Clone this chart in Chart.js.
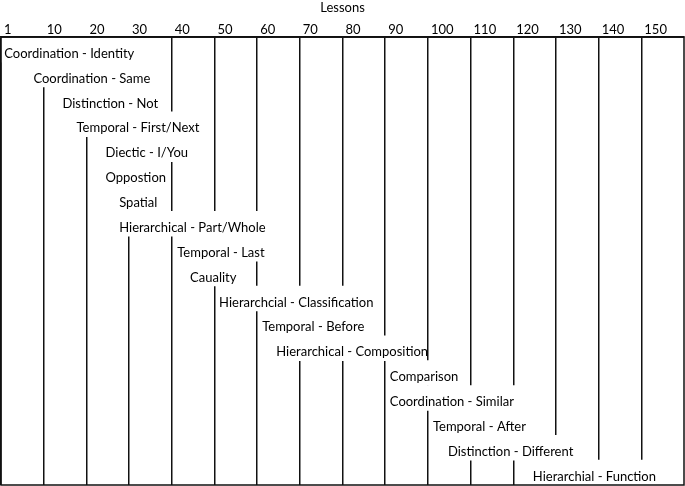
<!DOCTYPE html>
<html>
<head>
<meta charset="utf-8">
<script src="https://cdn.jsdelivr.net/npm/chart.js@4/dist/chart.umd.min.js"></script>
<style>
  body { margin: 0; background: #fff; }
  canvas { display: block; }
</style>
</head>
<body>
<canvas id="chart" width="685" height="486"></canvas>
<script>
// relations, one per row, top to bottom
const categories = [
  'Coordination - Identity',
  'Coordination - Same',
  'Distinction - Not',
  'Temporal - First/Next',
  'Diectic - I/You',
  'Oppostion',
  'Spatial',
  'Hierarchical - Part/Whole',
  'Temporal - Last',
  'Cauality',
  'Hierarchcial - Classification',
  'Temporal - Before',
  'Hierarchical - Composition',
  'Comparison',
  'Coordination - Similar',
  'Temporal - After',
  'Distinction - Different',
  'Hierarchial - Function'
];
// lesson where each label block starts / ends
const labelStart = [0, 7.0, 13.8, 17.1, 23.9, 23.9, 27.1, 27.1, 40.7, 43.7, 50.5, 60.6, 63.9, 90.5, 90.5, 100.6, 104.1, 124.0];
const labelEnd = [31.3, 35.3, 36.7, 47.5, 43.5, 38.4, 37.0, 62.5, 62.5, 55.2, 88.0, 86.1, 99.7, 107.1, 120.9, 123.7, 133.6, 153.7];
// lesson ticks along the top
const tickValues = [0, 10, 20, 30, 40, 50, 60, 70, 80, 90, 100, 110, 120, 130, 140, 150];
const tickLabels = ['1', '10', '20', '30', '40', '50', '60', '70', '80', '90', '100', '110', '120', '130', '140', '150'];

const FONT = 'Lato, "Open Sans", sans-serif';

const rowText = {
  id: 'rowText',
  afterDatasetsDraw(chart) {
    const ctx = chart.ctx;
    const meta = chart.getDatasetMeta(0);
    ctx.save();
    ctx.font = '13px ' + FONT;
    ctx.fillStyle = '#000';
    ctx.textAlign = 'left';
    ctx.textBaseline = 'middle';
    meta.data.forEach(function(bar, i) {
      const x0 = Math.min(bar.base, bar.x);
      ctx.fillText(categories[i], x0 + 2.5, bar.y + 4);
    });
    ctx.restore();
  }
};

const frame = {
  id: 'frame',
  afterDraw(chart) {
    const a = chart.chartArea;
    const ctx = chart.ctx;
    ctx.save();
    ctx.strokeStyle = '#111';
    ctx.lineWidth = 1.5;
    ctx.strokeRect(a.left, a.top, a.right - a.left, a.bottom - a.top);
    ctx.restore();
  }
};

new Chart(document.getElementById('chart'), {
  type: 'bar',
  data: {
    labels: categories,
    datasets: [{
      data: categories.map(function(c, i) { return [labelStart[i], labelEnd[i]]; }),
      backgroundColor: '#fff',
      borderWidth: 0,
      barPercentage: 1,
      categoryPercentage: 1
    }]
  },
  options: {
    indexAxis: 'y',
    responsive: false,
    animation: false,
    events: [],
    layout: { padding: { left: 1, right: 1, top: 0, bottom: 1 } },
    plugins: { legend: { display: false }, tooltip: { enabled: false } },
    scales: {
      x: {
        type: 'linear',
        position: 'top',
        min: 0,
        max: 160,
        afterBuildTicks: function(scale) {
          scale.ticks = tickValues.map(function(v) { return { value: v }; });
        },
        ticks: {
          callback: function(v, i) { return tickLabels[i]; },
          align: 'start',
          labelOffset: 3,
          padding: 0,
          maxRotation: 0,
          autoSkip: false,
          color: '#000',
          font: { family: FONT, size: 13 }
        },
        grid: { color: '#111', lineWidth: 1.5, drawTicks: false },
        border: { display: true, color: '#111', width: 1.5 },
        title: {
          display: true,
          text: 'Lessons',
          color: '#000',
          font: { family: FONT, size: 13 },
          padding: { top: 0, bottom: 6 }
        }
      },
      y: {
        type: 'category',
        display: false,
        grid: { display: false }
      }
    }
  },
  plugins: [rowText, frame]
});
</script>
</body>
</html>
